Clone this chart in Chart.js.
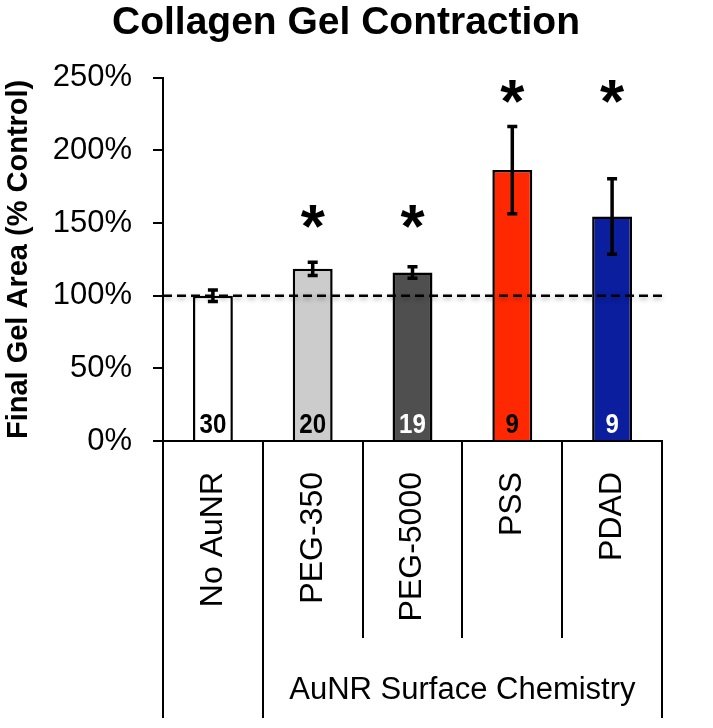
<!DOCTYPE html>
<html>
<head>
<meta charset="utf-8">
<script src="https://cdn.jsdelivr.net/npm/chart.js@4.4.1/dist/chart.umd.min.js"></script>
<style>
  html, body { margin: 0; padding: 0; background: #fff; }
  #wrap { width: 713px; height: 728px; }
</style>
</head>
<body>
<div id="wrap"><canvas id="gelChart"></canvas></div>
<script>
// data
const categories = ['No AuNR', 'PEG-350', 'PEG-5000', 'PSS', 'PDAD'];
const gelArea = [100, 118.5, 116, 186.5, 154.5];      // % of control
const gelErr = [4, 4.5, 4, 30, 26];
const sampleN = ['30', '20', '19', '9', '9'];
const sigLevel = [null, 152, 152, 238, 238];           // where the * sits (%)
const yTicks = [0, 50, 100, 150, 200, 250];
const groups = [
    { label: '', from: 0, to: 0 },
    { label: 'AuNR Surface Chemistry', from: 1, to: 4 }
];

const barColors = ['#ffffff', '#cccccc', '#4f4f4f', '#ff2800', '#0a1e9e'];
const nColors = ['#000000', '#000000', '#ffffff', '#000000', '#ffffff'];

const extras = {
    id: 'extras',
    afterDatasetsDraw(chart) {
        const ctx = chart.ctx;
        const y = chart.scales.y;
        const area = chart.chartArea;
        const bars = chart.getDatasetMeta(0).data;

        // dashed control line at 100%
        ctx.save();
        ctx.strokeStyle = '#000';
        ctx.lineWidth = 2.5;
        ctx.setLineDash([9, 5]);
        ctx.shadowColor = 'rgba(0,0,0,0.35)';
        ctx.shadowBlur = 5;
        ctx.shadowOffsetY = 2;
        ctx.beginPath();
        ctx.moveTo(area.left, y.getPixelForValue(100));
        ctx.lineTo(area.right, y.getPixelForValue(100));
        ctx.stroke();
        ctx.restore();

        ctx.save();
        // error bars
        ctx.strokeStyle = '#000';
        ctx.lineWidth = 3.5;
        bars.forEach(function (bar, i) {
            const top = y.getPixelForValue(gelArea[i] + gelErr[i]);
            const bot = y.getPixelForValue(gelArea[i] - gelErr[i]);
            ctx.beginPath();
            ctx.moveTo(bar.x, top);
            ctx.lineTo(bar.x, bot);
            ctx.moveTo(bar.x - 5, top);
            ctx.lineTo(bar.x + 5, top);
            ctx.moveTo(bar.x - 5, bot);
            ctx.lineTo(bar.x + 5, bot);
            ctx.stroke();
        });

        // n counts inside bars (condensed look)
        ctx.font = 'bold 28px "Liberation Sans", Arial, sans-serif';
        ctx.textAlign = 'center';
        ctx.textBaseline = 'alphabetic';
        bars.forEach(function (bar, i) {
            ctx.save();
            ctx.translate(bar.x, area.bottom - 8);
            ctx.scale(0.86, 1);
            ctx.fillStyle = nColors[i];
            ctx.fillText(sampleN[i], 0, 0);
            ctx.restore();
        });

        // significance stars
        ctx.fillStyle = '#000';
        ctx.font = 'bold 62px "Liberation Sans", Arial, sans-serif';
        bars.forEach(function (bar, i) {
            if (sigLevel[i] == null) return;
            ctx.fillText('*', bar.x, y.getPixelForValue(sigLevel[i]) + 27);
        });
        ctx.restore();
    },
    afterDraw(chart) {
        const ctx = chart.ctx;
        const x = chart.scales.x;
        const area = chart.chartArea;
        const n = categories.length;
        const edge = function (k) {
            if (k <= 0) return area.left;
            if (k >= n) return area.right;
            return (x.getPixelForValue(k - 1) + x.getPixelForValue(k)) / 2;
        };
        const groupStarts = groups.map(function (g) { return g.from; });

        ctx.save();
        ctx.strokeStyle = '#000';
        ctx.lineWidth = 2;
        for (let k = 0; k <= n; k++) {
            const long = k === 0 || k === n || groupStarts.indexOf(k) >= 0;
            const xx = Math.round(edge(k));
            ctx.beginPath();
            ctx.moveTo(xx, area.bottom);
            ctx.lineTo(xx, long ? 718 : 638);
            ctx.stroke();
        }

        ctx.fillStyle = '#000';
        ctx.font = '31px "Liberation Sans", Arial, sans-serif';
        ctx.textAlign = 'center';
        ctx.textBaseline = 'middle';
        groups.forEach(function (g) {
            if (!g.label) return;
            const cx = (edge(g.from) + edge(g.to + 1)) / 2;
            ctx.fillText(g.label, cx, 690);
        });
        ctx.restore();
    }
};

const ctx = document.getElementById('gelChart');

new Chart(ctx, {
    type: 'bar',
    data: {
        labels: categories,
        datasets: [{
            data: gelArea,
            backgroundColor: barColors,
            borderColor: '#000',
            borderWidth: 2.5,
            borderSkipped: 'bottom',
            categoryPercentage: 1,
            barPercentage: 0.4
        }]
    },
    options: {
        responsive: true,
        maintainAspectRatio: false,
        animation: false,
        layout: { padding: { left: 30, right: 51, top: 0, bottom: 0 } },
        plugins: {
            legend: { display: false },
            tooltip: { enabled: false },
            title: {
                display: true,
                text: 'Collagen Gel Contraction',
                color: '#000',
                font: { family: '"Liberation Sans", Arial, sans-serif', size: 39, weight: 'bold', lineHeight: 1.2 },
                padding: { top: 0, bottom: 31 }
            }
        },
        scales: {
            x: {
                afterFit: function (scale) { scale.height = 287; },
                grid: { display: false },
                border: { display: true, color: '#000', width: 2 },
                ticks: {
                    color: '#000',
                    minRotation: 90,
                    maxRotation: 90,
                    padding: 23,
                    autoSkip: false,
                    font: { family: '"Liberation Sans", Arial, sans-serif', size: 32 }
                }
            },
            y: {
                min: 0,
                max: 250,
                afterFit: function (scale) { scale.width = 133; },
                afterBuildTicks: function (scale) {
                    scale.ticks = yTicks.map(function (v) { return { value: v }; });
                },
                grid: { drawOnChartArea: false, drawTicks: true, tickLength: 10, color: '#000', lineWidth: 2 },
                border: { display: true, color: '#000', width: 2 },
                ticks: {
                    color: '#000',
                    padding: 21,
                    font: { family: '"Liberation Sans", Arial, sans-serif', size: 31 },
                    callback: function (v) { return v + '%'; }
                },
                title: {
                    display: true,
                    text: 'Final Gel Area (% Control)',
                    color: '#000',
                    padding: { top: -28, bottom: 0 },
                    font: { family: '"Liberation Sans", Arial, sans-serif', size: 29, weight: 'bold', lineHeight: 1.2 }
                }
            }
        }
    },
    plugins: [extras]
});
</script>
</body>
</html>
